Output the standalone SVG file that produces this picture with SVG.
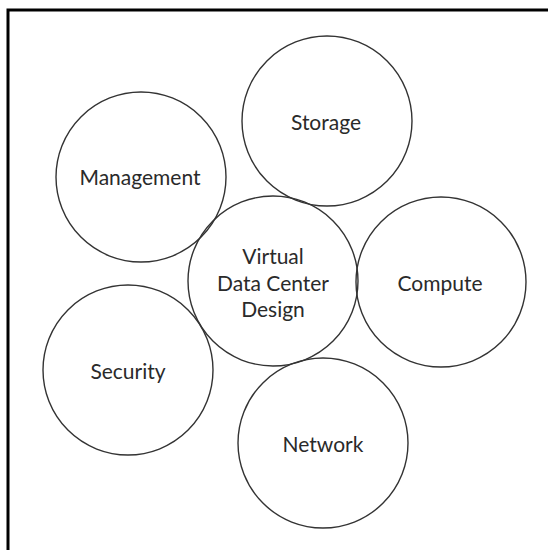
<svg xmlns="http://www.w3.org/2000/svg" width="548" height="550" viewBox="0 0 548 550">
<style>
.n circle{fill:none;stroke:#333;stroke-width:1.4}
.n text{font-family:Lato,"Open Sans",sans-serif;font-size:21px;fill:#2a2a2a;text-anchor:middle;dominant-baseline:central}
.frame{stroke:#000;stroke-width:3;fill:none}
</style>
<rect width="548" height="550" fill="#fff"/>
<path class="frame" d="M8 550 V10 H548"/>
<g id="storage" class="n"><circle cx="327" cy="121" r="85"/><text x="326" y="121">Storage</text></g>
<g id="management" class="n"><circle cx="141" cy="177" r="85"/><text x="140" y="176">Management</text></g>
<g id="vdc" class="n"><circle cx="273" cy="281" r="85"/><text x="273" y="255">Virtual</text><text x="273" y="282">Data Center</text><text x="273" y="308">Design</text></g>
<g id="compute" class="n"><circle cx="441" cy="282" r="85"/><text x="440" y="282">Compute</text></g>
<g id="security" class="n"><circle cx="128" cy="370" r="85"/><text x="128" y="370">Security</text></g>
<g id="network" class="n"><circle cx="323" cy="443" r="85"/><text x="323" y="443">Network</text></g>
<g id="connectors"></g>
</svg>
